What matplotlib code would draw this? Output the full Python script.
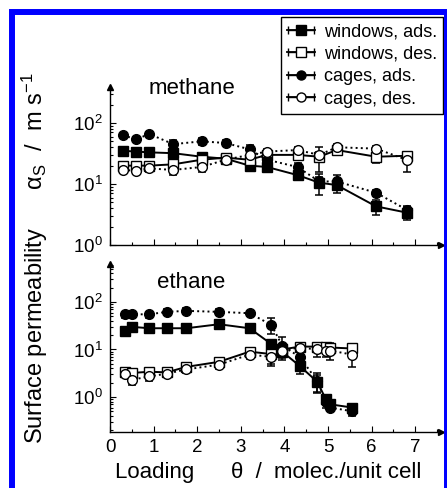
import matplotlib
matplotlib.use("Agg")
import matplotlib.pyplot as plt
from matplotlib.patches import Rectangle
from matplotlib.lines import Line2D
from matplotlib.collections import LineCollection
from matplotlib.container import ErrorbarContainer
from matplotlib.legend_handler import HandlerErrorbar
from matplotlib.ticker import LogLocator, FixedLocator, NullFormatter

plt.rcParams["font.family"] = ["Liberation Sans", "DejaVu Sans"]
plt.rcParams["mathtext.fontset"] = "custom"
plt.rcParams["mathtext.rm"] = "Liberation Sans"
plt.rcParams["mathtext.it"] = "Liberation Sans:italic"
plt.rcParams["mathtext.default"] = "regular"

# ---- datos: metano ----
meth_theta = [0.3, 0.6, 0.9, 1.45, 2.1, 2.65, 3.2, 3.6, 4.3, 4.8, 5.2, 6.1, 6.8]
meth_win_ads = [35, 34, 33, 32, 28, 26, 20, 19, 14, 10.5, 9.6, 4.3, 3.4]
meth_win_ads_err = [3, 3, 3, 4, 4, 4, 3, 3, 2.5, 4, 2.5, 1.2, 0.8]
meth_win_des = [20, 20, 20, 21, 25, 27, 25, 30, 30, 28, 36, 28, 29]
meth_win_des_err = [2, 2, 2, 3, 4, 4, 4, 4, 4, 12, 5, 6, 4]
meth_cag_ads = [63, 54, 66, 45, 50, 47, 37, 25, 19, 11, 11, 7.2, 3.8]
meth_cag_ads_err = [4, 4, 4, 7, 6, 5, 6, 4, 3, 2, 3, 0.8, 0.5]
meth_cag_des = [17, 16.5, 18, 17, 19, 25, 30, 34, 36, 30, 40, 38, 25]
meth_cag_des_err = [2, 2, 2, 3, 3, 4, 4, 3, 4, 4, 5, 4, 9]

# ---- datos: etano ----
eth_theta = [0.35, 0.5, 0.9, 1.3, 1.75, 2.5, 3.2, 3.7, 3.95, 4.35, 4.75, 4.95, 5.05, 5.55]
eth_win_ads = [24, 30, 28, 28, 28, 34, 28, 13, 9, 4.5, 2.1, 0.9, 0.7, 0.6]
eth_win_ads_err = [3, 3, 3, 3, 3, 4, 4, 3, 2, 1.5, 0.8, 0.15, 0.15, 0.1]
eth_win_des = [3.3, 3.2, 3.4, 3.3, 4.3, 5.5, 9, 8, 10, 11.5, 11.5, 11.5, 11, 10.5]
eth_win_des_err = [0.5, 0.5, 0.5, 0.5, 0.6, 1, 1.5, 3, 2.5, 2, 2, 2.5, 3, 2]
eth_cag_ads = [55, 55, 55, 62, 65, 62, 58, 33, 12, 7, 2.2, 0.8, 0.6, 0.5]
eth_cag_ads_err = [8, 8, 8, 8, 8, 8, 8, 12, 6, 2, 1.0, 0.2, 0.1, 0.1]
eth_cag_des = [3.0, 2.3, 2.7, 3.1, 3.8, 4.8, 7.8, 7, 9.5, 11, 10, 9.5, 9.5, 7.8]
eth_cag_des_err = [0.4, 0.5, 0.5, 0.5, 0.6, 1, 1.5, 2.5, 3, 2, 3, 2.5, 3.5, 3.5]

labels = ["windows, ads.", "windows, des.", "cages, ads.", "cages, des."]
estilos = [
    dict(marker="s", mfc="black", ls="-"),
    dict(marker="s", mfc="white", ls="-"),
    dict(marker="o", mfc="black", ls=":"),
    dict(marker="o", mfc="white", ls=":"),
]

W, H = 447, 488
fig = plt.figure(figsize=(W / 100, H / 100), dpi=100)

ax1 = fig.add_axes([110 / W, (H - 245) / H, 331.4 / W, 158 / H])
ax2 = fig.add_axes([110 / W, (H - 432) / H, 331.4 / W, 168 / H])


def panel(ax, theta, series, ylim, nombre, pos):
    for (y, e), st in zip(series, estilos):
        ax.errorbar(theta, y, yerr=e, color="black", marker=st["marker"],
                    mfc=st["mfc"], mec="black", ms=7, ls=st["ls"],
                    lw=1.4, elinewidth=1.1, capsize=3, capthick=1.1)
    ax.set_yscale("log")
    ax.set_xlim(0, 7.6)
    ax.set_ylim(*ylim)
    for s in ["top", "right"]:
        ax.spines[s].set_visible(False)
    ax.spines["left"].set_linewidth(1.0)
    ax.spines["bottom"].set_linewidth(1.0)
    ax.xaxis.set_major_locator(FixedLocator(range(8)))
    ax.xaxis.set_minor_locator(FixedLocator([i + 0.5 for i in range(8)]))
    ax.yaxis.set_major_locator(LogLocator(base=10, numticks=10))
    ax.yaxis.set_minor_locator(LogLocator(base=10, subs=range(2, 10), numticks=10))
    ax.yaxis.set_minor_formatter(NullFormatter())
    ax.tick_params(which="both", direction="in", labelsize=13.5, width=0.8)
    ax.tick_params(which="major", length=4, pad=5)
    ax.tick_params(which="minor", length=2)
    # flechas al final de los ejes
    ax.plot(1, 0, ">k", ms=5, transform=ax.transAxes, clip_on=False)
    ax.plot(0, 1, "^k", ms=5, transform=ax.transAxes, clip_on=False)
    ax.text(pos[0], pos[1], nombre, transform=ax.transAxes, fontsize=16,
            ha="left", va="center")


panel(ax1, meth_theta,
      [(meth_win_ads, meth_win_ads_err), (meth_win_des, meth_win_des_err),
       (meth_cag_ads, meth_cag_ads_err), (meth_cag_des, meth_cag_des_err)],
      (1, 389), "methane", (0.115, 0.99))
ax1.tick_params(axis="x", labelbottom=False)

panel(ax2, eth_theta,
      [(eth_win_ads, eth_win_ads_err), (eth_win_des, eth_win_des_err),
       (eth_cag_ads, eth_cag_ads_err), (eth_cag_des, eth_cag_des_err)],
      (0.183, 631), "ethane", (0.142, 0.887))

# etiquetas de ejes
fig.text(268 / W, (H - 478) / H, "Loading      \u03b8  /  molec./unit cell",
         fontsize=16, ha="center", va="baseline")
fig.text(35 / W, (H - 258) / H,
         "Surface permeability      \u03b1$_S$  /  m s$^{-1}$",
         fontsize=17, rotation=90, ha="center", va="center")

# leyenda con barras de error horizontales
handles = []
for st, lab in zip(estilos, labels):
    line = Line2D([], [], color="black", marker=st["marker"], mfc=st["mfc"],
                  mec="black", ms=6.5, ls="-", lw=1.3)
    cap = Line2D([], [], color="black", marker="|", ms=6, mew=1.0, ls="none")
    bar = LineCollection([], colors="black", linewidths=1.0)
    handles.append(ErrorbarContainer((line, (cap,), (bar,)), has_xerr=True,
                                     has_yerr=False, label=lab))
fig.legend(handles=handles, labels=labels, loc="upper right",
           bbox_to_anchor=(443 / W, (H - 17) / H), fontsize=13,
           handlelength=1.5, handletextpad=0.5, labelspacing=0.3,
           borderpad=0.35, borderaxespad=0, fancybox=False, framealpha=1,
           edgecolor="black",
           handler_map={ErrorbarContainer: HandlerErrorbar(xerr_size=0.7)})
fig.legends[0].get_frame().set_linewidth(1.0)

# marco azul
fig.patches.append(Rectangle((11.5 / W, -0.1), (446.5 - 11.5) / W,
                             (H - 12) / H + 0.1, transform=fig.transFigure,
                             fill=False, edgecolor="#0000ff", lw=4.3,
                             zorder=10))

plt.savefig("out.png", dpi=100)
